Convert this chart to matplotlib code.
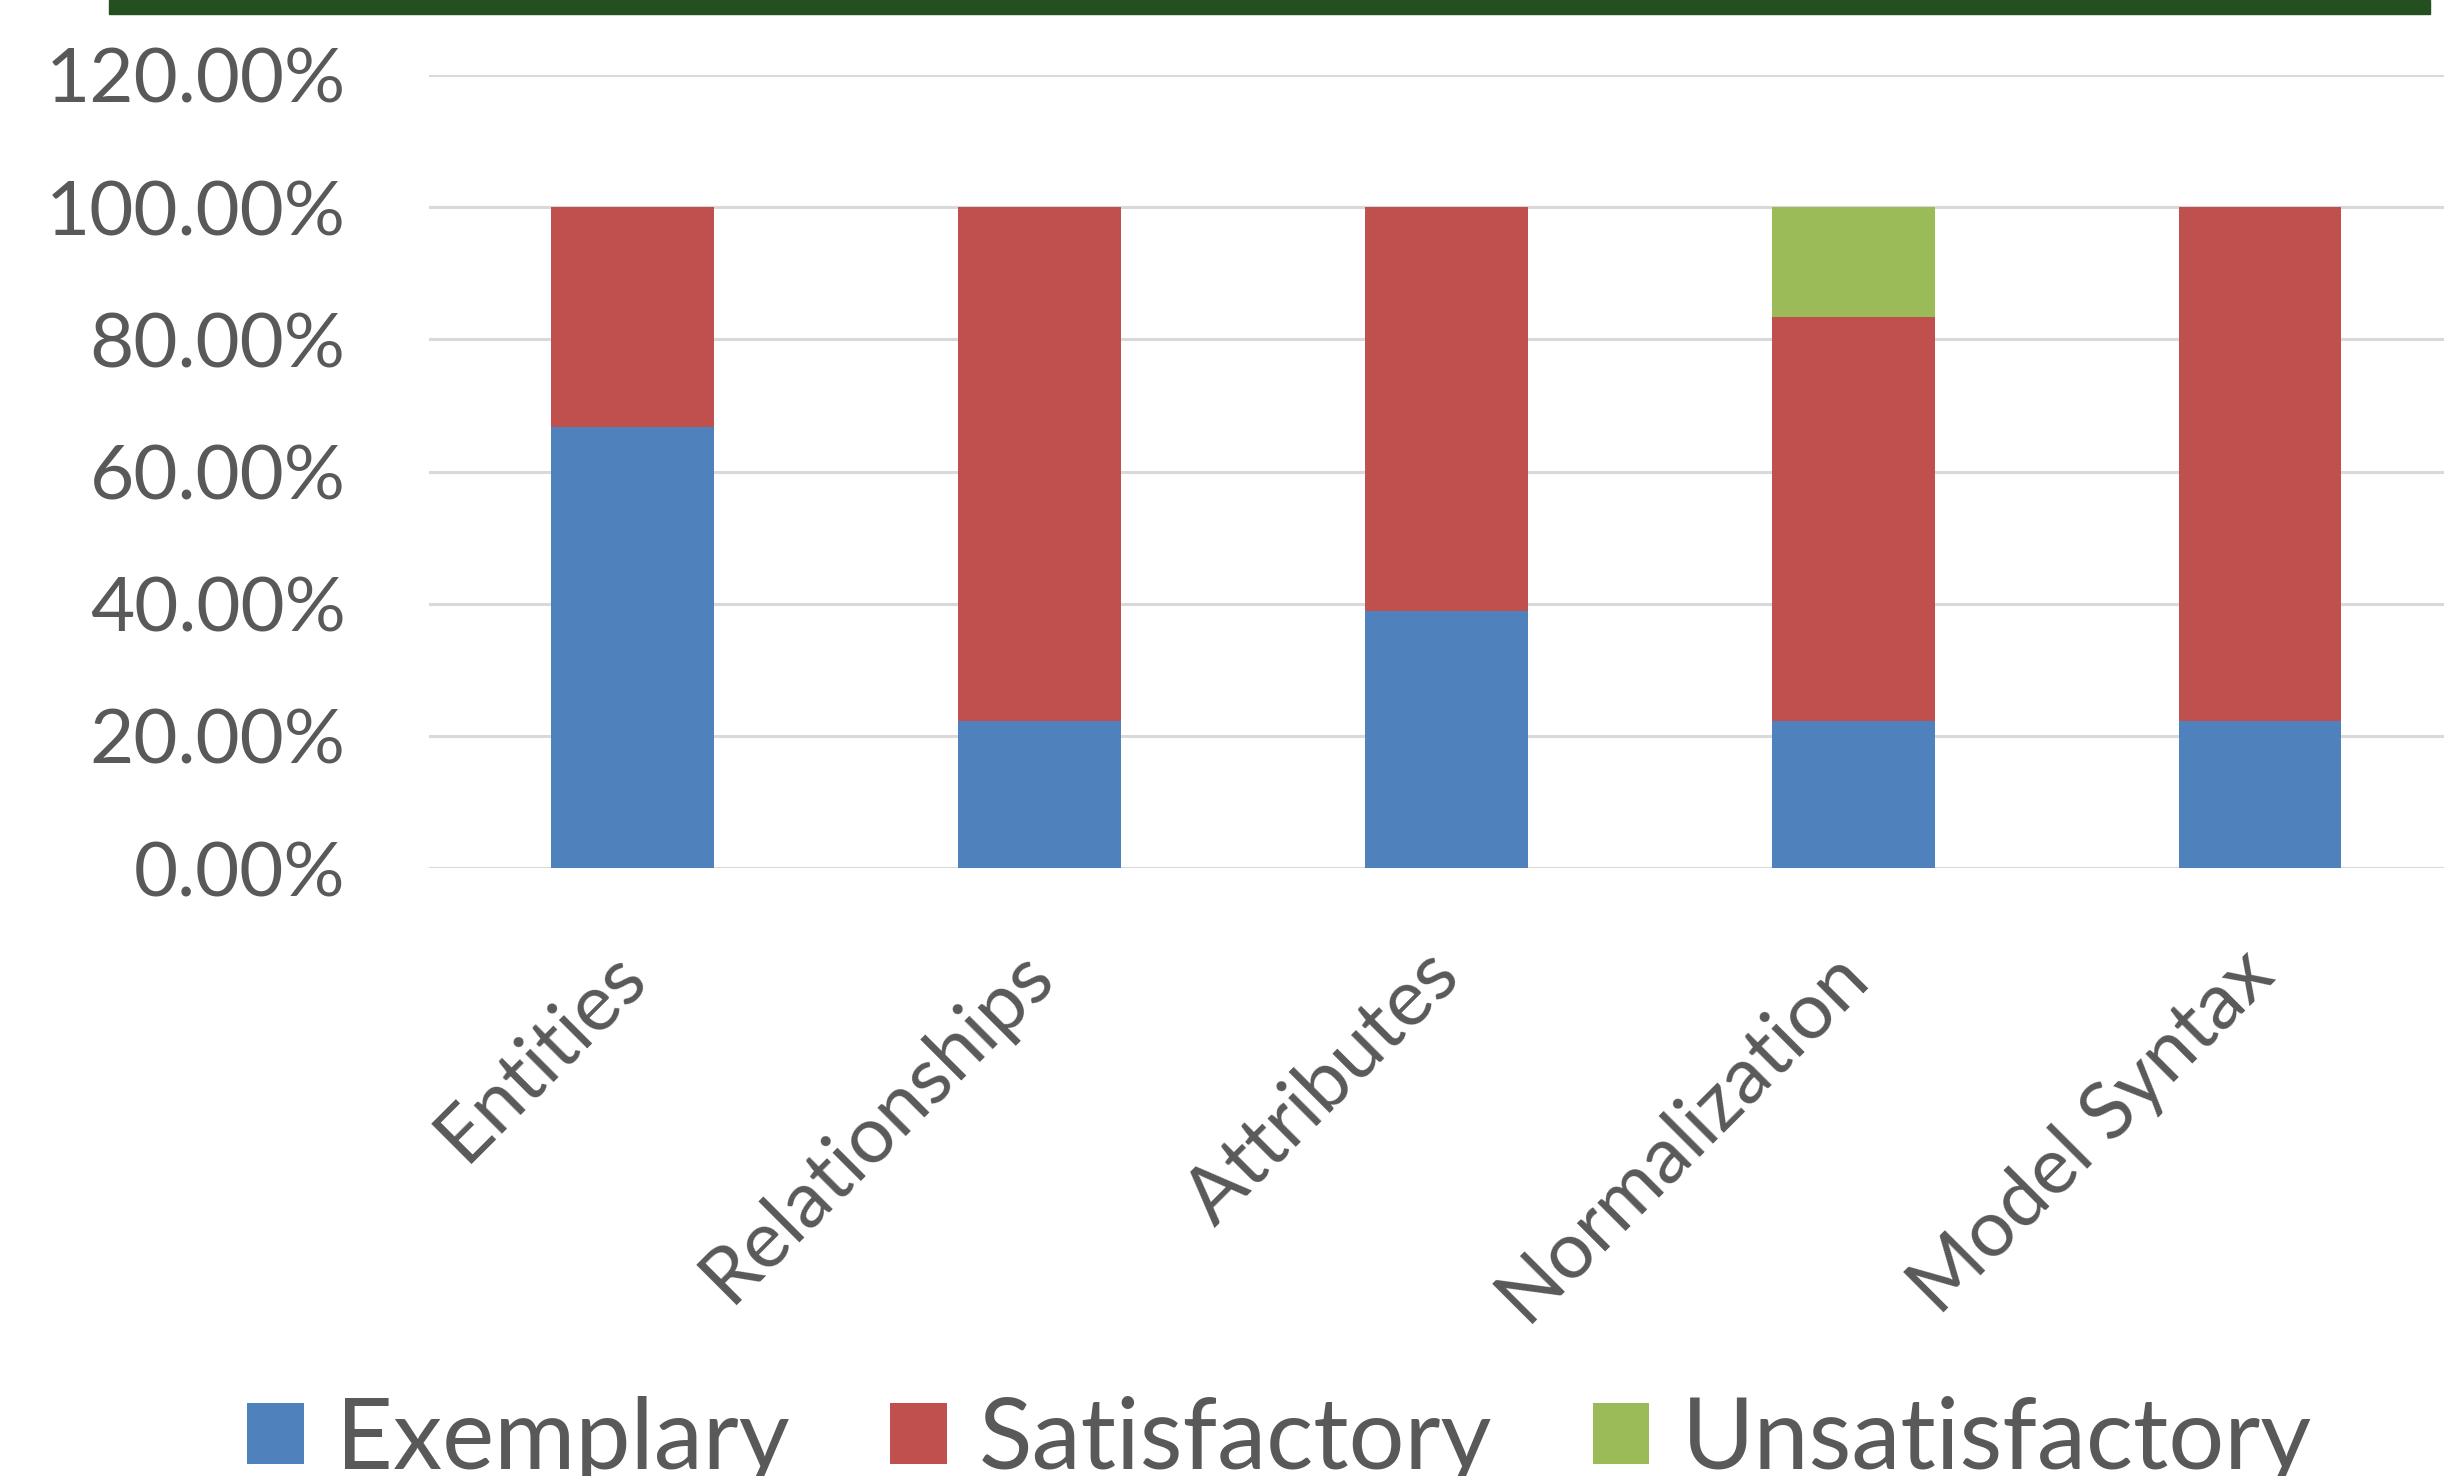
import matplotlib.pyplot as plt
import matplotlib.transforms as mtransforms
from matplotlib.patches import Rectangle
from matplotlib.ticker import PercentFormatter
import numpy as np

categories = ["Entities", "Relationships", "Attributes", "Normalization", "Model Syntax"]
exemplary = [66.67, 22.22, 38.89, 22.22, 22.22]
satisfactory = [33.33, 77.78, 61.11, 61.11, 77.78]
unsatisfactory = [0.0, 0.0, 0.0, 16.67, 0.0]
series_names = ["Exemplary", "Satisfactory", "Unsatisfactory"]
colors = ["#4f81bd", "#c0504d", "#9bbb59"]
text_col = "#595959"

plt.rcParams['font.family'] = ['Lato', 'DejaVu Sans']

fig = plt.figure(figsize=(24.44, 14.76), dpi=100)
ax = fig.add_axes([0.1755, 0.4119, 0.8325, 0.5373])

x = np.arange(len(categories))
ex = np.array(exemplary) / 100
sa = np.array(satisfactory) / 100
un = np.array(unsatisfactory) / 100
ax.bar(x, ex, 0.4, color=colors[0], label=series_names[0], zorder=3)
ax.bar(x, sa, 0.4, bottom=ex, color=colors[1], label=series_names[1], zorder=3)
ax.bar(x, un, 0.4, bottom=ex + sa, color=colors[2], label=series_names[2], zorder=3)

ax.set_xlim(-0.5, 4.5)
ax.set_ylim(0, 1.2)
ax.set_yticks(np.arange(0, 1.21, 0.2))
ax.yaxis.set_major_formatter(PercentFormatter(1.0, decimals=2))
ax.grid(axis='y', color="#d9d9d9", linewidth=2.2, zorder=0)
for s in ax.spines.values():
    s.set_visible(False)
ax.tick_params(axis='y', length=0, pad=60, labelsize=55, labelcolor=text_col)
ax.tick_params(axis='x', length=0, pad=40, labelsize=57, labelcolor=text_col)
ax.set_xticks(x)
ax.set_xticklabels(categories, rotation=45, ha='right', rotation_mode='anchor')
shift = mtransforms.ScaledTranslation(-0.24, -0.14, fig.dpi_scale_trans)
for lab in ax.get_xticklabels():
    lab.set_transform(lab.get_transform() + shift)

# dark green band at the top
fig.patches.append(Rectangle((0.0446, 0.9905), 0.9496, 0.0095, transform=fig.transFigure,
                             color="#244f21", zorder=5))

fig.legend(loc='center', bbox_to_anchor=(0.5236, 0.024), ncol=3, frameon=False,
           fontsize=71, labelcolor=text_col, handlelength=0.57, handleheight=0.57,
           handletextpad=0.33, columnspacing=1.02)

fig.savefig("out.png", dpi=100)
